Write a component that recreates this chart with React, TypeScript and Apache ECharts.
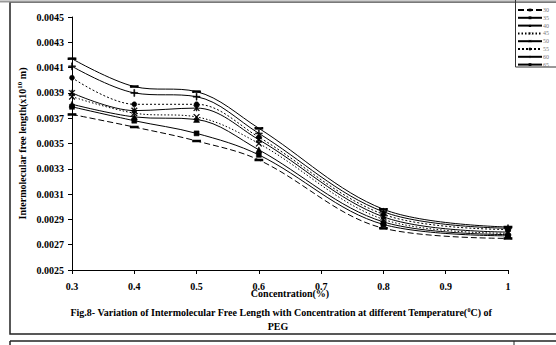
import React, { useEffect, useRef } from "react";
import * as echarts from "echarts";

const concentration = [0.3, 0.4, 0.5, 0.6, 0.8, 1.0];
const temperatures = ["30", "35", "40", "45", "50", "55", "60", "65"];
const t30 = [0.00373, 0.00363, 0.00352, 0.00337, 0.00283, 0.00275];
const t35 = [0.00379, 0.00368, 0.00358, 0.00341, 0.00286, 0.00277];
const t40 = [0.00381, 0.00371, 0.00369, 0.00345, 0.00288, 0.00278];
const t45 = [0.00387, 0.00374, 0.00371, 0.0035, 0.0029, 0.00279];
const t50 = [0.0039, 0.00376, 0.00378, 0.00353, 0.00292, 0.0028];
const t55 = [0.00402, 0.00381, 0.00381, 0.00355, 0.00294, 0.00282];
const t60 = [0.00411, 0.0039, 0.00387, 0.00358, 0.00296, 0.00283];
const t65 = [0.00417, 0.00395, 0.00391, 0.00362, 0.00298, 0.00284];
const seriesValues = [t30, t35, t40, t45, t50, t55, t60, t65];
const yTicks = { min: 0.0025, max: 0.0045, interval: 0.0002 };
const xTicks = { min: 0.3, max: 1.0, interval: 0.1 };

const DASH = "path://M0,0 H10 V3 H0 Z";
const XMARK = "path://M0,1 L1,0 L10,9 L9,10 Z M9,0 L10,1 L1,10 L0,9 Z";
const STAR = "path://M0,1 L1,0 L10,9 L9,10 Z M9,0 L10,1 L1,10 L0,9 Z M4.4,0 H5.6 V10 H4.4 Z";
const PLUS = "path://M4.3,0 H5.7 V10 H4.3 Z M0,4.3 H10 V5.7 H0 Z";

const styles: any[] = [
  { type: [6, 3], symbol: DASH, size: [7, 2] },
  { type: "solid", symbol: "rect", size: 5 },
  { type: "solid", symbol: "triangle", size: 6 },
  { type: [1.5, 2], symbol: XMARK, size: 6 },
  { type: "solid", symbol: STAR, size: 6 },
  { type: [2, 2], symbol: "circle", size: 5 },
  { type: "solid", symbol: PLUS, size: 7 },
  { type: "solid", symbol: DASH, size: [7, 2] },
];

const FONT = "Liberation Serif";

export default function App() {
  const ref = useRef<HTMLDivElement>(null);
  useEffect(() => {
    if (!ref.current) return;
    const chart = echarts.init(ref.current, null, { renderer: "svg" });
    const series = temperatures.map((name, i) => ({
      name,
      type: "line",
      smooth: 0.35,
      data: concentration.map((c, j) => [c, seriesValues[i][j]]),
      symbol: styles[i].symbol,
      symbolSize: styles[i].size,
      showAllSymbol: true,
      lineStyle: { color: "#000", width: 1, type: styles[i].type },
      itemStyle: { color: "#000", borderColor: "#000", borderWidth: 0.5 },
      emphasis: { disabled: true },
    }));
    chart.setOption({
      animation: false,
      backgroundColor: "#fff",
      grid: { left: 72, right: 48, top: 17, bottom: 75, containLabel: false },
      xAxis: {
        type: "value",
        min: xTicks.min,
        max: xTicks.max,
        interval: xTicks.interval,
        name: "Concentration(%)",
        nameLocation: "middle",
        nameGap: 18,
        nameMoveOverlap: false,
        nameTextStyle: { fontFamily: FONT, fontWeight: "bold", fontSize: 10, color: "#000" },
        axisLine: { lineStyle: { color: "#000", width: 1 } },
        axisTick: { length: 4, inside: false, lineStyle: { color: "#000" } },
        axisLabel: {
          fontFamily: FONT, fontWeight: "bold", fontSize: 10, color: "#000", margin: 11,
          formatter: (v: number) => String(+v.toFixed(1)),
        },
        splitLine: { show: false },
      },
      yAxis: {
        type: "value",
        min: yTicks.min,
        max: yTicks.max,
        interval: yTicks.interval,
        name: "{a|Intermolecular free length(x10}{s|10}{a| m)}",
        nameLocation: "middle",
        nameGap: 44,
        nameMoveOverlap: false,
        nameTextStyle: {
          rich: {
            a: { fontFamily: FONT, fontWeight: "bold", fontSize: 10, color: "#000" },
            s: { fontFamily: FONT, fontWeight: "bold", fontSize: 7, color: "#000", verticalAlign: "top", padding: [0, 0, 5, 0] },
          },
        },
        axisLine: { show: true, lineStyle: { color: "#000", width: 1 } },
        axisTick: { show: true, length: 4, lineStyle: { color: "#000" } },
        axisLabel: {
          fontFamily: FONT, fontWeight: "bold", fontSize: 10, color: "#000", margin: 8,
          formatter: (v: number) => v.toFixed(4),
        },
        splitLine: { show: false },
      },
      legend: {
        orient: "vertical",
        left: 517,
        top: 7,
        padding: 0,
        itemWidth: 24,
        itemHeight: 3.5,
        itemGap: 1.8,
        data: temperatures,
        itemStyle: { borderWidth: 0 },
        textStyle: { fontFamily: FONT, fontSize: 6, color: "#777", padding: [0, 0, 0, -4], lineHeight: 6 },
        selectedMode: false,
      },
      graphic: [
        { type: "rect", silent: true, shape: { x: 10, y: 2, width: 560, height: 332 }, style: { fill: "none", stroke: "#222", lineWidth: 1.5 } },
        { type: "line", silent: true, shape: { x1: 0, y1: 1.5, x2: 556, y2: 1.5 }, style: { stroke: "#999", lineWidth: 2 } },
        { type: "rect", silent: true, shape: { x: 515.5, y: -2, width: 45, height: 69 }, style: { fill: "none", stroke: "#333", lineWidth: 1 } },
        { type: "line", silent: true, shape: { x1: 10, y1: 341, x2: 556, y2: 341 }, style: { stroke: "#222", lineWidth: 1.5 } },
        { type: "line", silent: true, shape: { x1: 10, y1: 341, x2: 10, y2: 350 }, style: { stroke: "#222", lineWidth: 1.5 } },
        { type: "line", silent: true, shape: { x1: 514, y1: 341, x2: 514, y2: 350 }, style: { stroke: "#222", lineWidth: 1 } },
        {
          type: "text", silent: true, x: 281, y: 312,
          style: {
            text: "{a|Fig.8- Variation of Intermolecular Free Length with Concentration at different Temperature(}{s|0}{a|C) of}",
            align: "center", verticalAlign: "middle",
            rich: {
              a: { fontFamily: FONT, fontWeight: "bold", fontSize: 10, fill: "#000" },
              s: { fontFamily: FONT, fontWeight: "bold", fontSize: 6, fill: "#000", verticalAlign: "top", padding: [0, 0, 5, 0] },
            },
          },
        },
        {
          type: "text", silent: true, x: 278, y: 326,
          style: { text: "PEG", align: "center", verticalAlign: "middle", fontFamily: FONT, fontWeight: "bold", fontSize: 10, fill: "#000" },
        },
      ],
      series,
    });
    return () => chart.dispose();
  }, []);
  return <div ref={ref} style={{ position: "fixed", left: 0, top: 0, width: 556, height: 345 }} />;
}
